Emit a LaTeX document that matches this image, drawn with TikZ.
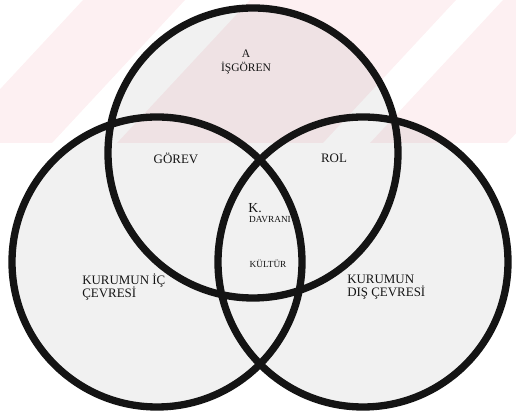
\documentclass[tikz,border=0pt]{standalone}
\usepackage{fontspec}
\setmainfont{Liberation Serif}
\usepackage{xcolor}
\definecolor{ink}{HTML}{141414}
\definecolor{stripe}{HTML}{FDF0F2}
\usetikzlibrary{positioning}

\begin{document}
\begin{tikzpicture}[
		x=0.025cm, y=0.025cm,
		ring/.style={line width=5.2pt, ink},
		lbl/.style={font=\fontsize{9.2}{9.6}\selectfont, ink, inner sep=0pt},
		tinylbl/.style={font=\fontsize{6.6}{7}\selectfont, ink, inner sep=0pt}
	]
		\useasboundingbox (0,0) rectangle (516,414);

		% Pale stripes along the top band
		\begin{scope}
			\clip (0,271) rectangle (516,414);
			\foreach \a/\b in {83/185, 250/456, 503/640} {
				\fill[stripe] (\a,414) -- (\b,414) -- ({\b-133},271) -- ({\a-133},271) -- cycle;
			}
		\end{scope}

		% Circle centres
		\coordinate (ctop) at (253,261);
		\coordinate (cleft) at (157,152);
		\coordinate (cright) at (363,152);

		% Shaded union of the three circles, then the rings
		\fill[black, fill opacity=0.055] (ctop) circle (145) (cleft) circle (145) (cright) circle (145);
		\draw[ring] (ctop) circle (145) (cleft) circle (145) (cright) circle (145);

		% Labels
		\node[lbl, align=center, font=\fontsize{8.2}{10}\selectfont] (isgoren) at (246,352) {A\\İŞGÖREN};
		\node[lbl] (gorev) at (176,256) {GÖREV};
		\node[lbl] (rol) at (334,256) {ROL};
		\node[lbl, font=\fontsize{9.8}{10}\selectfont] (kdot) at (255,206) {K.};
		\node[tinylbl] (davrani) at (270,194) {DAVRANI};
		\node[tinylbl] (kultur) at (268,150) {KÜLTÜR};
		\node[lbl, align=left, anchor=west] (icc) at (82,127) {KURUMUN İÇ\\ÇEVRESİ};
		\node[lbl, align=left, anchor=west] (disc) at (347,127) {KURUMUN\\DIŞ ÇEVRESİ};
	\end{tikzpicture}
\end{document}
